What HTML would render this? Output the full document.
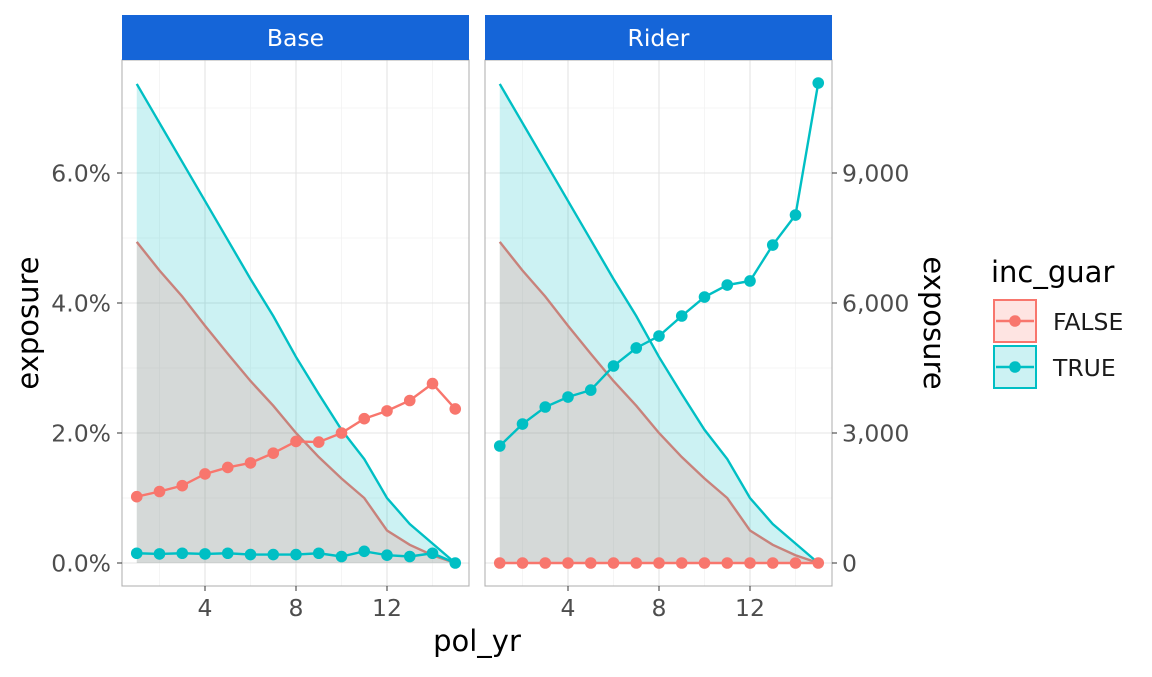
<!DOCTYPE html>
<html><head><meta charset="utf-8"><style>
body{margin:0;background:#fff;font-family:"Liberation Sans","DejaVu Sans",sans-serif}
</style></head><body>
<svg id="c" width="1152" height="672" xmlns="http://www.w3.org/2000/svg" style="font-family:'DejaVu Sans','Liberation Sans',sans-serif"></svg>
<script>
const years=[1,2,3,4,5,6,7,8,9,10,11,12,13,14,15];
const areaTrue=[7.37,6.77,6.17,5.57,4.97,4.37,3.8,3.17,2.6,2.05,1.6,1.0,0.6,0.3,0.0];
const areaFalse=[4.94,4.5,4.1,3.65,3.22,2.8,2.42,2.0,1.63,1.3,1.0,0.5,0.28,0.12,0.0];
const baseFalse=[1.02,1.1,1.19,1.37,1.47,1.54,1.69,1.87,1.86,2.0,2.22,2.34,2.5,2.76,2.37];
const baseTrue=[0.15,0.14,0.15,0.14,0.15,0.13,0.13,0.13,0.15,0.1,0.18,0.12,0.1,0.15,0.0];
const riderTrue=[2700,3207,3600,3830,3990,4546,4962,5238,5700,6138,6415,6508,7338,8030,11077];
const riderFalse=[0,0,0,0,0,0,0,0,0,0,0,0,0,0,0];
const xTicks=[4,8,12];
const leftTicks=[0,2,4,6];
const leftTickLabels=["0.0%","2.0%","4.0%","6.0%"];
const rightTicks=[0,3000,6000,9000];
const rightTickLabels=["0","3,000","6,000","9,000"];
const panels=["Base","Rider"];

const svg=document.getElementById('c');
const NS="http://www.w3.org/2000/svg";
function el(t,a,p){const e=document.createElementNS(NS,t);for(const k in a)e.setAttribute(k,a[k]);(p||svg).appendChild(e);return e;}
const Y0=563,PX=65;
const yL=v=>Y0-v*PX;
const yR=v=>Y0-v*130/3000;
const PT=60,PB=586,PW=347;
const panelX=[122,485];
const RED="#F8766D",TEAL="#00BFC4";
const SM=23.5, TT=29;

panelX.forEach((px,pi)=>{
  const xs=v=>px+14.75+(v-1)*22.75;
  const g=el('g',{});
  
  
  [2,6,10,14].forEach(v=>el('line',{x1:xs(v),x2:xs(v),y1:PT,y2:PB,stroke:'#f3f3f3','stroke-width':0.8},g));
  [1,3,5,7].forEach(v=>el('line',{x1:px,x2:px+PW,y1:yL(v),y2:yL(v),stroke:'#f3f3f3','stroke-width':0.8},g));
  xTicks.forEach(v=>el('line',{x1:xs(v),x2:xs(v),y1:PT,y2:PB,stroke:'#e4e4e4','stroke-width':1.1},g));
  leftTicks.forEach(v=>el('line',{x1:px,x2:px+PW,y1:yL(v),y2:yL(v),stroke:'#e4e4e4','stroke-width':1.1},g));
  const ap=(arr)=>'M'+xs(years[0])+','+Y0+' '+years.map((y,i)=>'L'+xs(y)+','+yL(arr[i])).join(' ')+' L'+xs(years[years.length-1])+','+Y0+'Z';
  const lp=(arr,f)=>years.map((y,i)=>(i?'L':'M')+xs(y)+','+f(arr[i])).join(' ');
  const a1=el('path',{d:ap(areaTrue),fill:'rgba(0,191,196,0.2)'},g);
  
  el('path',{d:lp(areaTrue,yL),fill:'none',stroke:TEAL,'stroke-width':2.4},g);
  const a2=el('path',{d:ap(areaFalse),fill:'rgba(248,118,109,0.2)'},g);
  
  el('path',{d:lp(areaFalse,yL),fill:'none',stroke:'#C8827B','stroke-width':2.4},g);
  const f=pi===0?yL:yR;
  const sF=pi===0?baseFalse:riderFalse, sT=pi===0?baseTrue:riderTrue;
  [[sF,RED,'false'],[sT,TEAL,'true']].forEach(([arr,col,nm])=>{
    const l=el('path',{d:lp(arr,f),fill:'none',stroke:col,'stroke-width':2.4},g);
    
    years.forEach((y,i)=>{const c=el('circle',{cx:xs(y),cy:f(arr[i]),r:5.8,fill:col},g);
      });
  });
  el('rect',{x:px,y:PT,width:PW,height:PB-PT,fill:'none',stroke:'#b3b3b3','stroke-width':1.1},g);
  const s=el('rect',{x:px,y:15,width:PW,height:45,fill:'#1565D8'},g);
  
  const st=el('text',{x:px+PW/2,y:46,'text-anchor':'middle',fill:'#fff','font-size':SM},g);st.textContent=panels[pi];
  xTicks.forEach(v=>{el('line',{x1:xs(v),x2:xs(v),y1:PB,y2:PB+5,stroke:'#333'},g);
    const t=el('text',{x:xs(v),y:PB+30,'text-anchor':'middle',fill:'#4d4d4d','font-size':SM},g);t.textContent=v;
    });
});
leftTicks.forEach((v,i)=>{el('line',{x1:117,x2:122,y1:yL(v),y2:yL(v),stroke:'#333'});
  const t=el('text',{x:111,y:yL(v)+8.5,'text-anchor':'end',fill:'#4d4d4d','font-size':SM});t.textContent=leftTickLabels[i];
  });
rightTicks.forEach((v,i)=>{el('line',{x1:832,x2:837,y1:yR(v),y2:yR(v),stroke:'#333'});
  const t=el('text',{x:842,y:yR(v)+8.5,'text-anchor':'start',fill:'#4d4d4d','font-size':SM});t.textContent=rightTickLabels[i];
  });
let t=el('text',{x:477,y:651,'text-anchor':'middle','font-size':TT,fill:'#000'});t.textContent='pol_yr';

t=el('text',{x:0,y:0,'text-anchor':'middle','font-size':TT,fill:'#000',transform:'translate(38,323) rotate(-90)'});t.textContent='exposure';

t=el('text',{x:0,y:0,'text-anchor':'middle','font-size':TT,fill:'#000',transform:'translate(924,323) rotate(90)'});t.textContent='exposure';

t=el('text',{x:991,y:282,'font-size':TT,fill:'#000'});t.textContent='inc_guar';

[['FALSE',RED,'rgba(248,118,109,0.2)',300],['TRUE',TEAL,'rgba(0,191,196,0.2)',346]].forEach(([lab,col,fill,y])=>{
  const g=el('g',{});
  el('rect',{x:994,y:y,width:42,height:42,fill:fill,stroke:col,'stroke-width':2},g);
  el('line',{x1:996,x2:1034,y1:y+21,y2:y+21,stroke:col,'stroke-width':2.4},g);
  el('circle',{cx:1015,cy:y+21,r:5.8,fill:col},g);
  const tt=el('text',{x:1053,y:y+30,'font-size':SM,fill:'#1a1a1a'},g);tt.textContent=lab;
});
</script>
</body></html>
